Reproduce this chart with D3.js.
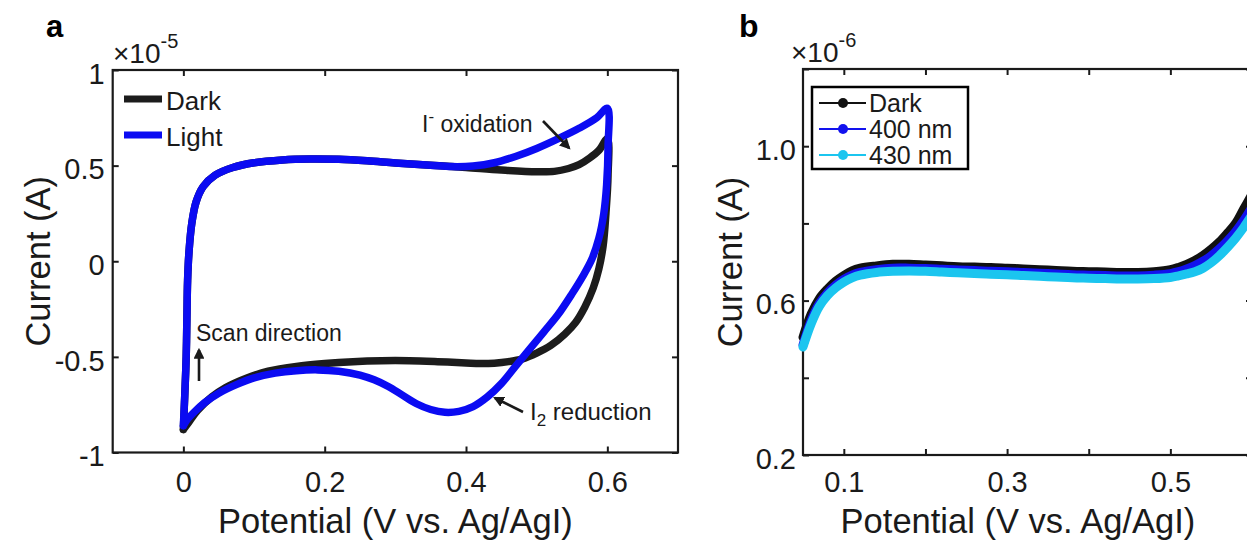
<!DOCTYPE html>
<html>
<head>
<meta charset="utf-8">
<script src="https://cdn.jsdelivr.net/npm/d3@7"></script>
<style>
  html, body { margin: 0; padding: 0; background: #fff; }
  svg { display: block; font-family: "Liberation Sans", Arial, Helvetica, sans-serif; }
</style>
</head>
<body>
<svg id="fig" width="1247" height="544"></svg>
<script>
// ---------- Panel a: cyclic voltammograms (current in units of 1e-5 A) ----------
const cvDark = [
  [0.000,-0.88],[0.002,-0.70],[0.004,-0.50],[0.005,-0.30],[0.006,-0.10],[0.008,0.05],
  [0.012,0.20],[0.018,0.31],[0.028,0.39],[0.045,0.45],[0.070,0.49],[0.100,0.515],
  [0.140,0.530],[0.180,0.535],[0.220,0.533],[0.260,0.525],[0.300,0.514],
  [0.350,0.502],[0.400,0.490],[0.450,0.477],[0.500,0.468],[0.525,0.470],[0.545,0.485],
  [0.560,0.505],[0.575,0.540],[0.588,0.580],[0.600,0.640],
  [0.601,0.450],[0.598,0.250],[0.594,0.080],[0.588,-0.040],[0.580,-0.140],[0.568,-0.240],
  [0.555,-0.320],[0.540,-0.380],[0.520,-0.440],[0.500,-0.480],[0.480,-0.510],[0.460,-0.525],
  [0.440,-0.533],[0.420,-0.535],[0.400,-0.532],[0.360,-0.525],[0.320,-0.520],[0.280,-0.520],
  [0.240,-0.525],[0.200,-0.535],[0.160,-0.550],[0.120,-0.575],[0.090,-0.610],[0.060,-0.660],
  [0.040,-0.710],[0.020,-0.780],[0.008,-0.840],[0.000,-0.880]
];
const cvLight = [
  [0.000,-0.86],[0.002,-0.70],[0.004,-0.50],[0.005,-0.30],[0.006,-0.10],[0.008,0.05],
  [0.012,0.20],[0.018,0.31],[0.028,0.39],[0.045,0.45],[0.070,0.49],[0.100,0.515],
  [0.140,0.530],[0.180,0.535],[0.220,0.533],[0.260,0.525],[0.300,0.514],
  [0.350,0.502],[0.380,0.495],[0.410,0.498],[0.440,0.515],[0.470,0.548],[0.500,0.590],
  [0.530,0.640],[0.560,0.695],[0.585,0.750],[0.600,0.800],
  [0.601,0.600],[0.599,0.400],[0.595,0.250],[0.588,0.120],[0.578,0.010],[0.565,-0.080],
  [0.550,-0.170],[0.530,-0.280],[0.510,-0.370],[0.490,-0.460],[0.470,-0.550],[0.450,-0.640],
  [0.430,-0.710],[0.410,-0.760],[0.390,-0.785],[0.370,-0.790],[0.350,-0.775],[0.330,-0.745],
  [0.310,-0.700],[0.290,-0.655],[0.270,-0.620],[0.250,-0.595],[0.220,-0.575],[0.190,-0.568],
  [0.160,-0.572],[0.130,-0.585],[0.100,-0.610],[0.075,-0.645],[0.050,-0.690],[0.030,-0.740],
  [0.015,-0.790],[0.005,-0.830],[0.000,-0.860]
];
const aSeriesNames = ["Dark", "Light"];
const aXTicks = [0, 0.2, 0.4, 0.6];
const aYTicks = [-1, -0.5, 0, 0.5, 1];

// ---------- Panel b: linear sweeps (current in units of 1e-6 A) ----------
const lsvPotential = [0.05,0.06,0.07,0.08,0.09,0.10,0.11,0.12,0.14,0.16,0.18,0.20,0.22,0.24,
  0.26,0.28,0.30,0.32,0.34,0.36,0.38,0.40,0.42,0.44,0.46,0.48,0.50,0.51,0.52,0.53,0.54,
  0.55,0.56,0.57,0.58,0.59,0.60];
const lsvDark = [0.505,0.565,0.605,0.630,0.650,0.665,0.677,0.684,0.690,0.694,0.694,0.692,
  0.690,0.688,0.687,0.686,0.684,0.682,0.680,0.678,0.676,0.675,0.674,0.673,0.673,0.675,
  0.680,0.686,0.694,0.704,0.717,0.733,0.752,0.775,0.800,0.838,0.875];
const lsv400 = [0.485,0.548,0.592,0.620,0.640,0.655,0.666,0.673,0.680,0.684,0.684,0.683,
  0.681,0.679,0.678,0.676,0.675,0.673,0.671,0.669,0.667,0.666,0.665,0.664,0.664,0.666,
  0.670,0.675,0.682,0.691,0.702,0.716,0.734,0.755,0.779,0.808,0.842];
const lsv430 = [0.480,0.540,0.585,0.613,0.633,0.648,0.659,0.666,0.673,0.676,0.677,0.676,
  0.674,0.672,0.670,0.668,0.667,0.665,0.663,0.661,0.659,0.658,0.657,0.656,0.656,0.657,
  0.660,0.664,0.669,0.675,0.684,0.698,0.716,0.738,0.762,0.790,0.822];
const bSeriesNames = ["Dark", "400 nm", "430 nm"];
const bXTicks = [0.1, 0.2, 0.3, 0.4, 0.5, 0.6];
const bXTickLabels = ["0.1", "", "0.3", "", "0.5", ""];
const bYTicks = [0.2, 0.4, 0.6, 0.8, 1.0, 1.2];
const bYTickLabels = ["0.2", "", "0.6", "", "1.0", ""];

const axisTitleX = "Potential (V vs. Ag/AgI)";
const axisTitleY = "Current (A)";

// ---------- drawing ----------
const svg = d3.select("#fig");
const INK = "#1a1a1a";
const TICK_FONT = 29, TITLE_FONT = 34.5;

// arrowhead marker
svg.append("defs").append("marker")
  .attr("id", "head").attr("viewBox", "0 0 10 10")
  .attr("refX", 8).attr("refY", 5)
  .attr("markerWidth", 4.2).attr("markerHeight", 4.2)
  .attr("orient", "auto")
  .append("path").attr("d", "M0,0 L10,5 L0,10 z").attr("fill", INK);

function frame(g, x, y, xTicks, xFmt, yTicks, yFmt, xPad, yPad) {
  const [x0, x1] = x.range(), [y0, y1] = y.range();
  const tick = 6;
  const bottom = g.append("g").attr("transform", `translate(0,${y0})`)
    .call(d3.axisBottom(x).tickValues(xTicks).tickFormat(xFmt).tickSizeInner(-tick).tickSizeOuter(0).tickPadding(xPad));
  const top = g.append("g").attr("transform", `translate(0,${y1})`)
    .call(d3.axisTop(x).tickValues(xTicks).tickFormat("").tickSizeInner(-tick).tickSizeOuter(0));
  const left = g.append("g").attr("transform", `translate(${x0},0)`)
    .call(d3.axisLeft(y).tickValues(yTicks).tickFormat(yFmt).tickSizeInner(-tick).tickSizeOuter(0).tickPadding(yPad));
  const right = g.append("g").attr("transform", `translate(${x1},0)`)
    .call(d3.axisRight(y).tickValues(yTicks).tickFormat("").tickSizeInner(-tick).tickSizeOuter(0));
  [bottom, top, left, right].forEach(a => {
    a.select(".domain").remove();
    a.selectAll("line").attr("stroke", INK).attr("stroke-width", 2);
    a.selectAll("text").attr("fill", INK).style("font-size", TICK_FONT + "px")
      .style("font-family", '"Liberation Sans", Arial, sans-serif');
  });
  left.selectAll("text").attr("dy", "0.46em");
  g.append("rect").attr("x", x0).attr("y", y1).attr("width", x1 - x0).attr("height", y0 - y1)
    .attr("fill", "none").attr("stroke", INK).attr("stroke-width", 2.2);
}

// ===== Panel a =====
const ga = svg.append("g");
const xa = d3.scaleLinear([-0.1, 0.7], [112.7, 678]);
const ya = d3.scaleLinear([-1, 1], [452.5, 70]);
const fmtA = d => (d === 0 ? "0" : String(d).replace("\u2212", "-"));
frame(ga, xa, ya, aXTicks, fmtA, aYTicks, fmtA, 19, 8);

const lineA = d3.line().x(d => xa(d[0])).y(d => ya(d[1])).curve(d3.curveCatmullRom.alpha(0.5));
const aColors = ["#1c1c1c", "#0b0bf2"];
[cvDark, cvLight].forEach((s, i) => {
  ga.append("path").attr("d", lineA(s)).attr("fill", "none")
    .attr("stroke", aColors[i]).attr("stroke-width", 7.5)
    .attr("stroke-linejoin", "round").attr("stroke-linecap", "round");
});

// legend (no box)
aSeriesNames.forEach((n, i) => {
  const cy = 99 + i * 36;
  ga.append("line").attr("x1", 124).attr("x2", 162).attr("y1", cy).attr("y2", cy)
    .attr("stroke", aColors[i]).attr("stroke-width", 7);
  ga.append("text").attr("x", 166).attr("y", cy + 11).text(n)
    .attr("fill", INK).style("font-size", "26px");
});

// annotations
const t1 = ga.append("text").attr("x", 422).attr("y", 132).attr("fill", INK).style("font-size", "23px");
t1.append("tspan").text("I");
t1.append("tspan").text("-").attr("dy", -10).style("font-size", "17px");
t1.append("tspan").text(" oxidation").attr("dy", 10);
ga.append("line").attr("x1", 543).attr("y1", 121).attr("x2", 569).attr("y2", 148)
  .attr("stroke", INK).attr("stroke-width", 2.6).attr("marker-end", "url(#head)");

ga.append("text").attr("x", 196).attr("y", 341).attr("fill", INK).style("font-size", "23px").text("Scan direction");
ga.append("line").attr("x1", 199).attr("y1", 381).attr("x2", 199).attr("y2", 350)
  .attr("stroke", INK).attr("stroke-width", 2.6).attr("marker-end", "url(#head)");

const t2 = ga.append("text").attr("x", 530).attr("y", 420).attr("fill", INK).style("font-size", "24px");
t2.append("tspan").text("I");
t2.append("tspan").text("2").attr("dy", 6).style("font-size", "17px");
t2.append("tspan").text(" reduction").attr("dy", -6);
ga.append("line").attr("x1", 523).attr("y1", 412).attr("x2", 495).attr("y2", 398)
  .attr("stroke", INK).attr("stroke-width", 2.6).attr("marker-end", "url(#head)");

// exponent, titles, panel letter
const ea = ga.append("text").attr("x", 113).attr("y", 63).attr("fill", INK).style("font-size", "28px");
ea.append("tspan").text("\u00d710");
ea.append("tspan").text("-5").attr("dy", -15).style("font-size", "20px");
ga.append("text").attr("x", (112.7 + 678) / 2).attr("y", 533).attr("text-anchor", "middle")
  .attr("fill", INK).style("font-size", TITLE_FONT + "px").text(axisTitleX);
ga.append("text").attr("transform", `translate(50,${(452.5 + 70) / 2}) rotate(-90)`).attr("text-anchor", "middle")
  .attr("fill", INK).style("font-size", TITLE_FONT + "px").text(axisTitleY);
ga.append("text").attr("x", 46).attr("y", 37).attr("fill", "#000")
  .style("font-size", "31px").style("font-weight", "bold").text("a");

// ===== Panel b =====
const gb = svg.append("g");
const xb = d3.scaleLinear([0.05, 0.6], [803, 1252]);
const yb = d3.scaleLinear([0.2, 1.2], [455, 69]);
frame(gb, xb, yb, bXTicks, (d, i) => bXTickLabels[i], bYTicks, (d, i) => bYTickLabels[i], 16, 7);

const lineB = d3.line().x(d => xb(d[0])).y(d => yb(d[1])).curve(d3.curveCatmullRom.alpha(0.5));
const bColors = ["#111111", "#1212ee", "#1bc5ef"];
[lsvDark, lsv400, lsv430].forEach((s, i) => {
  const pts = lsvPotential.map((v, k) => [v, s[k]]);
  gb.append("path").attr("d", lineB(pts)).attr("fill", "none")
    .attr("stroke", bColors[i]).attr("stroke-width", 9)
    .attr("stroke-linejoin", "round").attr("stroke-linecap", "round");
});

// legend with box
gb.append("rect").attr("x", 812).attr("y", 87).attr("width", 156).attr("height", 82)
  .attr("fill", "#fff").attr("stroke", "#000").attr("stroke-width", 2.5);
bSeriesNames.forEach((n, i) => {
  const cy = 103 + i * 26;
  gb.append("line").attr("x1", 819).attr("x2", 866).attr("y1", cy).attr("y2", cy)
    .attr("stroke", bColors[i]).attr("stroke-width", 2);
  gb.append("circle").attr("cx", 843).attr("cy", cy).attr("r", 5).attr("fill", bColors[i]);
  gb.append("text").attr("x", 869).attr("y", cy + 9).text(n)
    .attr("fill", INK).style("font-size", "25px");
});

const eb = gb.append("text").attr("x", 791).attr("y", 62).attr("fill", INK).style("font-size", "28px");
eb.append("tspan").text("\u00d710");
eb.append("tspan").text("-6").attr("dy", -15).style("font-size", "20px");
gb.append("text").attr("x", 1018).attr("y", 533).attr("text-anchor", "middle")
  .attr("fill", INK).style("font-size", TITLE_FONT + "px").text(axisTitleX);
gb.append("text").attr("transform", `translate(742,${(455 + 69) / 2}) rotate(-90)`).attr("text-anchor", "middle")
  .attr("fill", INK).style("font-size", TITLE_FONT + "px").text(axisTitleY);
gb.append("text").attr("x", 739).attr("y", 37).attr("fill", "#000")
  .style("font-size", "32px").style("font-weight", "bold").text("b");
</script>
</body>
</html>
